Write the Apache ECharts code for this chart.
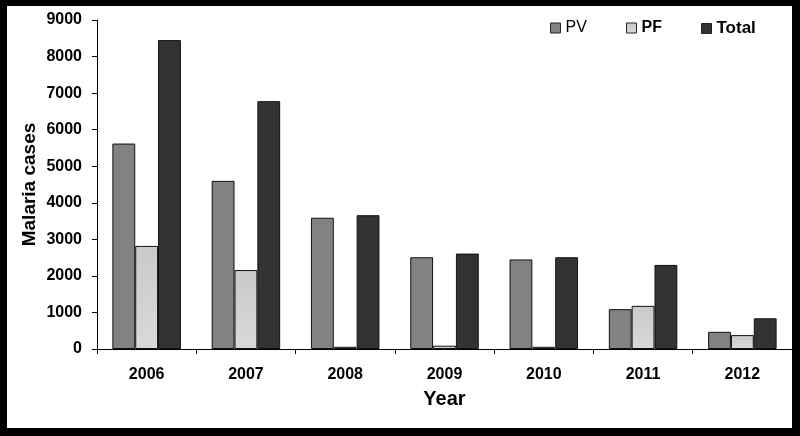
<!DOCTYPE html>
<html>
<head>
<meta charset="utf-8">
<script src="https://cdn.jsdelivr.net/npm/echarts@6/dist/echarts.min.js"></script>
<style>
html,body{margin:0;padding:0;background:#000;}
#outer{position:relative;width:800px;height:436px;background:#000;}
#chart{position:absolute;left:7px;top:6px;width:785px;height:422px;background:#fff;}
</style>
</head>
<body>
<div id="outer"><div id="chart"></div></div>
<script>
var years = ['2006','2007','2008','2009','2010','2011','2012'];
var pv = [5620, 4600, 3590, 2510, 2450, 1090, 470];
var pf = [2820, 2160, 60, 90, 60, 1180, 380];
var total = [8450, 6780, 3660, 2610, 2510, 2300, 840];
var yTicks = [0, 1000, 2000, 3000, 4000, 5000, 6000, 7000, 8000, 9000];

var font = 'Liberation Sans, Arial, sans-serif';
function leg(name, left, weight, size) {
  return {
    top: 9, left: left, itemWidth: 10, itemHeight: 10, icon: 'rect',
    data: [name],
    itemStyle: { borderColor: '#222', borderWidth: 1 },
    textStyle: { fontFamily: font, fontSize: size, fontWeight: weight, color: '#000' }
  };
}
var chart = echarts.init(document.getElementById('chart'));
chart.setOption({
  animation: false,
  backgroundColor: '#fff',
  legend: [
    leg('PV', 538, 'normal', 16),
    leg('PF', 614, 'bold', 16),
    leg('Total', 689, 'bold', 17)
  ],
  grid: { left: 90, right: 0, top: 14, bottom: 79 },
  xAxis: {
    type: 'category',
    data: years,
    name: 'Year',
    nameLocation: 'middle',
    nameGap: 40,
    nameTextStyle: { fontFamily: font, fontWeight: 'bold', fontSize: 20, color: '#000' },
    axisLine: { lineStyle: { color: '#000', width: 1 } },
    axisTick: { show: true, length: 5, inside: false, lineStyle: { color: '#000' } },
    axisLabel: { fontFamily: font, fontWeight: 'bold', fontSize: 16, color: '#000', margin: 18 }
  },
  yAxis: {
    type: 'value',
    min: yTicks[0],
    max: yTicks[yTicks.length - 1],
    interval: 1000,
    name: 'Malaria cases',
    nameLocation: 'middle',
    nameGap: 58,
    nameMoveOverlap: false,
    nameTextStyle: { fontFamily: font, fontWeight: 'bold', fontSize: 19, color: '#000' },
    axisLine: { show: true, lineStyle: { color: '#000', width: 1 } },
    axisTick: { show: true, length: 5, lineStyle: { color: '#000' } },
    splitLine: { show: false },
    axisLabel: { fontFamily: font, fontWeight: 'bold', fontSize: 16, color: '#000', margin: 15,
      formatter: function (v) { return String(v); } }
  },
  series: [
    { name: 'PV', type: 'bar', data: pv, barGap: '0%', barCategoryGap: '31%',
      itemStyle: { color: '#828282', borderColor: '#111', borderWidth: 1 } },
    { name: 'PF', type: 'bar', data: pf,
      itemStyle: { color: new echarts.graphic.LinearGradient(0, 0, 0, 1, [{offset: 0, color: '#c9c9c9'}, {offset: 1, color: '#d9d9d9'}]), borderColor: '#111', borderWidth: 1 } },
    { name: 'Total', type: 'bar', data: total,
      itemStyle: { color: '#333333', borderColor: '#111', borderWidth: 1 } }
  ]
});
</script>
</body>
</html>
